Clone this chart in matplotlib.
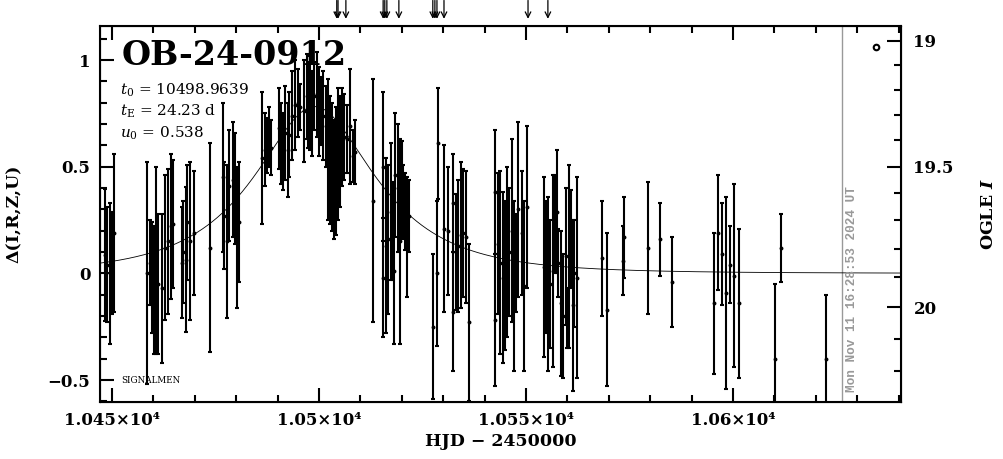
import numpy as np
import matplotlib
matplotlib.use('Agg')
import matplotlib.pyplot as plt

plt.rcParams['font.family'] = ['DejaVu Serif', 'DejaVu Sans']
plt.rcParams['mathtext.fontset'] = 'dejavuserif'

# photometry: HJD-2450000, delta mag (source), error
hjd = [10448.3, 10448.8, 10449.5, 10450.0, 10450.5,
       10458.45, 10459.18, 10459.66, 10460.14, 10460.63, 10461.11, 10462.08, 10462.8, 10463.53, 10464.25, 10464.73,
       10466.91, 10467.15, 10467.87, 10468.12, 10468.84, 10469.81, 10473.67,
       10476.81, 10477.05, 10477.78, 10478.26, 10479.23, 10479.71, 10480.19, 10480.68,
       10486.3, 10486.96, 10487.36, 10487.92, 10488.41, 10490.34, 10490.82, 10491.38, 10491.79, 10492.43,
       10492.83, 10493.56, 10494.2, 10494.85, 10495.41, 10496.45, 10497.02, 10497.42, 10497.83, 10498.39,
       10498.87, 10499.44, 10500.0, 10500.48, 10501.05, 10501.61, 10502.25, 10502.66, 10503.22, 10503.7,
       10504.19, 10504.67, 10505.15, 10505.64, 10506.12, 10506.69, 10507.49, 10508.13, 10508.7, 10513.12,
       10515.38, 10515.54, 10516.18, 10516.75, 10517.31, 10517.8, 10518.12, 10518.36, 10519.16, 10519.57,
       10519.97, 10520.37, 10520.77, 10521.34, 10521.82,
       10527.46, 10528.42, 10528.67, 10530.19, 10531.24, 10532.29, 10532.4, 10533.09, 10533.66, 10534.22,
       10534.86, 10535.51, 10536.31,
       10542.51, 10542.6, 10543.32, 10543.72, 10544.36, 10544.93, 10545.33, 10545.97, 10546.54, 10547.1,
       10547.58, 10548.15, 10548.95, 10549.52, 10550.16,
       10554.35, 10554.83, 10555.39, 10555.8, 10556.44, 10557.0, 10557.41, 10557.81, 10558.37, 10559.02,
       10559.58, 10559.98, 10560.46, 10560.79, 10561.27, 10561.67, 10562.4,
       10568.43, 10569.48, 10573.35, 10573.59, 10579.39, 10582.37, 10585.34,
       10595.33, 10596.3, 10597.42, 10598.31, 10599.28, 10600.31, 10601.38,
       10610.14, 10611.59, 10622.46]
dmag = [0.085, 0.04, 0.0, 0.05, 0.19,
        0.0, 0.05, -0.02, -0.08, 0.06, -0.05, -0.07, 0.12, 0.15, 0.22, 0.23,
        0.05, 0.10, 0.065, 0.24, 0.15, 0.19, 0.12,
        0.45, 0.27, 0.15, 0.41, 0.44, 0.40, 0.17, 0.24,
        0.54, 0.58, 0.60, 0.64, 0.59, 0.68, 0.61, 0.57, 0.66, 0.58,
        0.65, 0.74, 0.79, 0.80, 0.78, 0.76, 0.83, 0.79, 0.80, 0.75,
        0.83, 0.84, 0.76, 0.76, 0.74, 0.69, 0.58, 0.53, 0.50, 0.44,
        0.48, 0.56, 0.57, 0.64, 0.64, 0.63, 0.69, 0.55, 0.57, 0.34,
        -0.02, 0.50, 0.13, 0.16, 0.29, 0.20, 0.01, 0.46, 0.40, 0.15,
        0.39, 0.34, 0.29, 0.17, 0.27,
        -0.25, 0.0, 0.61, 0.21, 0.20, 0.33, -0.18, 0.10, 0.13, 0.18,
        0.19, 0.17, -0.23,
        0.38, -0.22, 0.14, 0.05, -0.02, -0.01, 0.10, 0.10, 0.20, -0.06,
        0.05, 0.30, 0.19, -0.06, 0.31,
        0.03, 0.03, -0.05, -0.05, 0.01, 0.23, 0.29, 0.05, -0.14, -0.20,
        0.08, -0.21, 0.08, 0.16, -0.15, 0.0, -0.02,
        0.07, -0.17, 0.06, 0.17, 0.12, 0.16, -0.04,
        -0.14, 0.19, 0.09, -0.09, 0.04, -0.01, -0.14,
        -0.40, 0.12, -0.40]
err = [0.31, 0.27, 0.33, 0.24, 0.37,
       0.52, 0.20, 0.26, 0.30, 0.44, 0.33, 0.35, 0.34, 0.34, 0.34, 0.30,
       0.26, 0.24, 0.34, 0.27, 0.37, 0.29, 0.49,
       0.35, 0.25, 0.36, 0.26, 0.27, 0.26, 0.33, 0.28,
       0.31, 0.17, 0.13, 0.14, 0.13, 0.19, 0.19, 0.18, 0.22, 0.22,
       0.20, 0.21, 0.21, 0.16, 0.11, 0.24, 0.20, 0.20, 0.22, 0.20,
       0.16, 0.20, 0.21, 0.16, 0.21, 0.19, 0.33, 0.30, 0.30, 0.28,
       0.30, 0.31, 0.26, 0.23, 0.20, 0.16, 0.27, 0.12, 0.15, 0.57,
       0.28, 0.35, 0.41, 0.35, 0.32, 0.23, 0.34, 0.29, 0.30, 0.48,
       0.23, 0.17, 0.18, 0.28, 0.17,
       0.34, 0.34, 0.26, 0.39, 0.30, 0.23, 0.28, 0.27, 0.31, 0.34,
       0.30, 0.31, 0.37,
       0.29, 0.31, 0.33, 0.43, 0.40, 0.35, 0.40, 0.30, 0.43, 0.40,
       0.23, 0.41, 0.29, 0.40, 0.38,
       0.42, 0.31, 0.41, 0.30, 0.45, 0.23, 0.29, 0.16, 0.34, 0.29,
       0.32, 0.14, 0.43, 0.23, 0.40, 0.25, 0.47,
       0.27, 0.36, 0.16, 0.19, 0.31, 0.17, 0.21,
       0.33, 0.27, 0.24, 0.45, 0.18, 0.43, 0.35,
       0.35, 0.16, 0.30]

# epochs flagged by arrows above the frame
arrow_hjd = [10504.3, 10504.6, 10506.5, 10515.5, 10515.9, 10516.4, 10519.3,
             10527.5, 10528.0, 10528.5, 10530.2, 10550.5, 10555.3]

# PSPL fit
t0 = 10498.9639
tE = 24.23
u0 = 0.538

# OGLE I baseline and blend fraction for right axis
I_base = 19.886
f_blend = 0.272
now_hjd = 10626.3

x_ticks = [10450, 10500, 10550, 10600]
x_labels = ['1.045\u00d710\u2074', '1.05\u00d710\u2074', '1.055\u00d710\u2074', '1.06\u00d710\u2074']
y_ticks = [-0.5, 0, 0.5, 1]
y_labels = ['\u22120.5', '0', '0.5', '1']
i_major = [19.0, 19.5, 20.0]
i_labels = ['19', '19.5', '20']


def ampl(t):
    u = np.sqrt(u0 ** 2 + ((t - t0) / tE) ** 2)
    return (u ** 2 + 2) / (u * np.sqrt(u ** 2 + 4))


def delta_of_mag(m):
    f = 10 ** (-0.4 * (m - I_base))
    return 2.5 * np.log10((f - f_blend) / (1 - f_blend))


fig = plt.figure(figsize=(10.04, 4.59), dpi=100)
ax = fig.add_axes([0.0996, 0.1242, 0.7978, 0.8192])
xlim = (10447.1, 10640.6)
ylim = (-0.603, 1.16)

tt = np.linspace(xlim[0], xlim[1], 800)
ax.plot(tt, 2.5 * np.log10(ampl(tt)), color='black', lw=0.6, zorder=1)

ax.errorbar(hjd, dmag, yerr=err, fmt='o', color='black', ms=1.8, elinewidth=1.5,
            capsize=1.2, capthick=1.5, zorder=2)

ax.axvline(now_hjd, color='#999999', lw=1.0, zorder=0)
ax.text(now_hjd + 0.9, -0.555, 'Mon Nov 11 16:28:53 2024 UT', rotation=90, color='#999999',
        family='Liberation Mono', fontweight='bold', fontsize=9.2, ha='left', va='bottom')

for a in arrow_hjd:
    ax.annotate('', xy=(a, 1.019), xycoords=('data', 'axes fraction'),
                xytext=(a, 1.068), textcoords=('data', 'axes fraction'),
                arrowprops=dict(arrowstyle='->', color='black', lw=0.9, shrinkA=0, shrinkB=0,
                                mutation_scale=10), annotation_clip=False)

ax.set_xlim(xlim)
ax.set_ylim(ylim)
ax.set_xticks(x_ticks, labels=x_labels)
ax.set_xticks(np.arange(10450, 10641, 10), minor=True)
ax.set_yticks(y_ticks, labels=y_labels)
ax.set_yticks(np.arange(-0.6, 1.15, 0.1), minor=True)
ax.tick_params(which='both', direction='in', top=True, right=False, width=1.5)
ax.tick_params(which='major', length=10, labelsize=12, pad=7)
ax.tick_params(which='minor', length=5)
for lab in ax.get_xticklabels() + ax.get_yticklabels():
    lab.set_fontweight('bold')
for s in ax.spines.values():
    s.set_linewidth(1.5)

ax2 = ax.twinx()
ax2.set_ylim(ylim)
ax2.set_yticks([delta_of_mag(m) for m in i_major], labels=i_labels)
ax2.set_yticks([delta_of_mag(m) for m in np.arange(19.0, 20.25, 0.1)], minor=True)
ax2.tick_params(which='both', direction='in', width=1.5)
ax2.tick_params(which='major', length=10, labelsize=12, pad=9)
ax2.tick_params(which='minor', length=5)
for lab in ax2.get_yticklabels():
    lab.set_fontweight('bold')

ax.set_xlabel('HJD \u2212 2450000', fontsize=12.5, fontweight='bold', labelpad=3)
ax.set_ylabel('\u0394(I,R,Z,U)', fontsize=12.5, fontweight='bold', labelpad=18)
ax2.set_ylabel(r'OGLE $\mathbfit{I}$', fontsize=12.5, fontweight='bold', labelpad=19)

ax.text(0.027, 0.965, 'OB-24-0912', transform=ax.transAxes, fontsize=24,
        fontweight='bold', va='top', ha='left')
params = [r'$t_0$ = %.4f' % t0, r'$t_{\rm E}$ = %.2f d' % tE, r'$u_0$ = %.3f' % u0]
for i, p in enumerate(params):
    ax.text(0.025, 0.83 - i * 0.058, p, transform=ax.transAxes, fontsize=11, va='center', ha='left')
ax.text(0.027, 0.058, 'SIGNALMEN', transform=ax.transAxes, fontsize=6.3, va='center', ha='left')
ax.plot([0.969], [0.944], marker='o', ms=4, mfc='none', mec='black', mew=1.5,
        transform=ax.transAxes)

fig.savefig('out.png', dpi=100)
